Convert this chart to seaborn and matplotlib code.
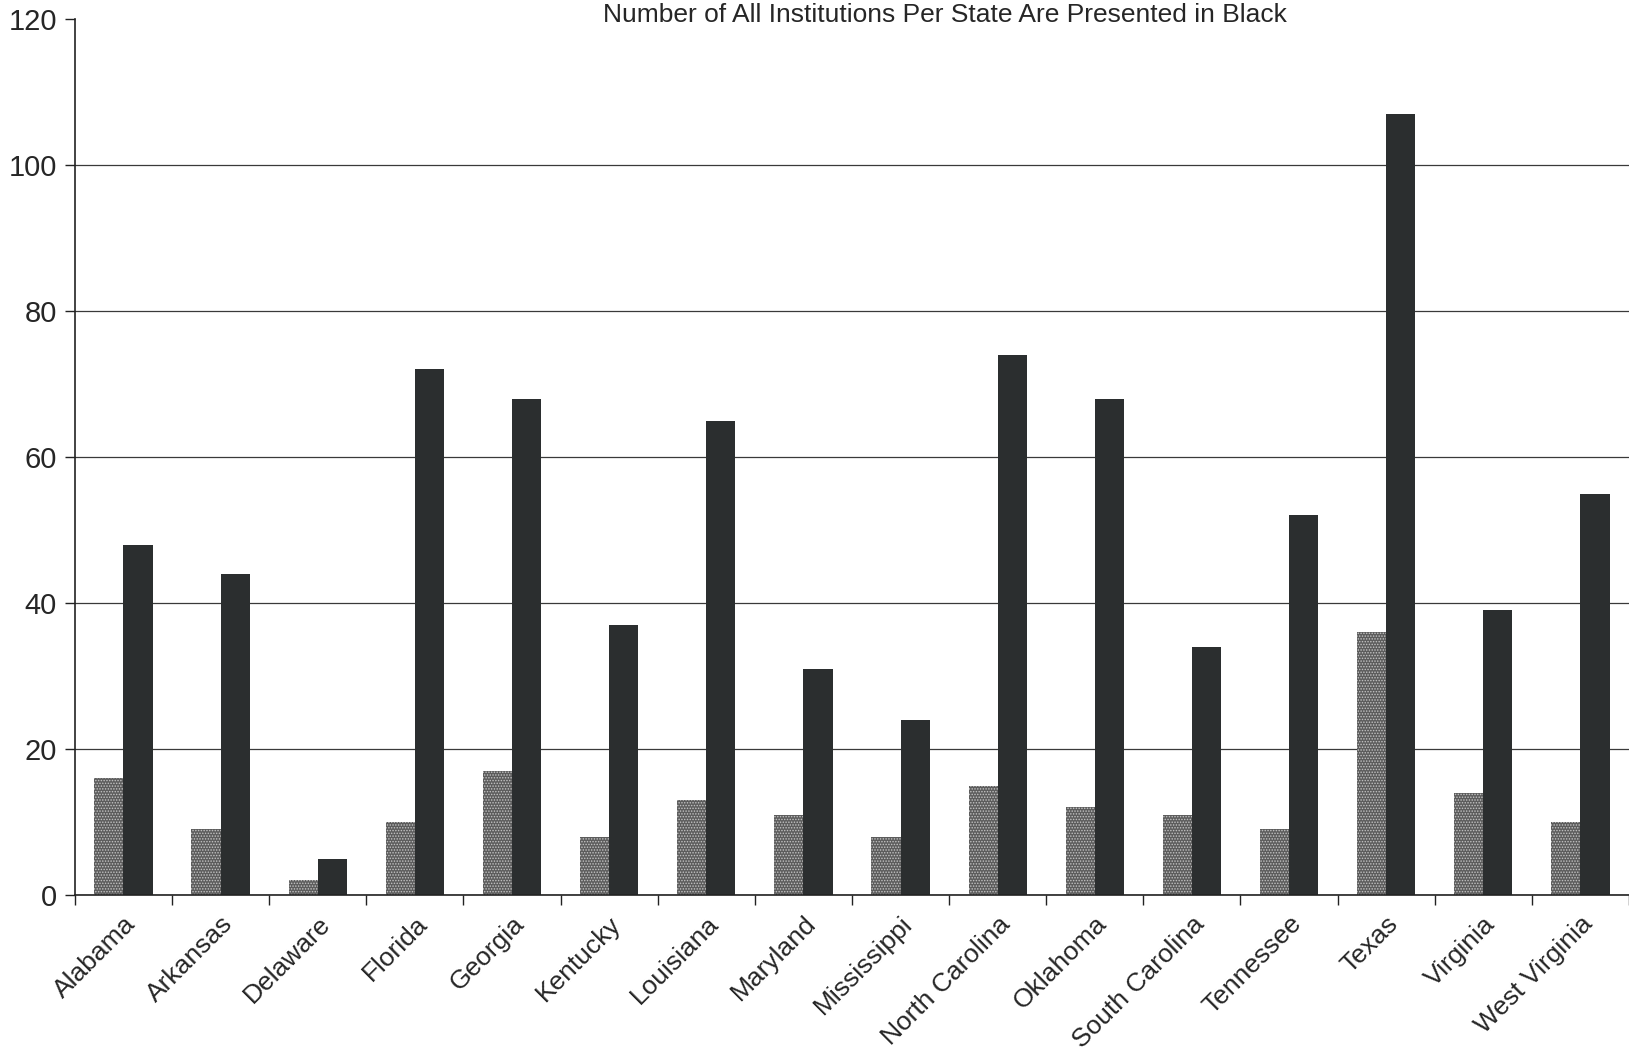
import numpy as np
import pandas as pd
import matplotlib
matplotlib.use("Agg")
import matplotlib.pyplot as plt
import seaborn as sns

states = ["Alabama", "Arkansas", "Delaware", "Florida", "Georgia", "Kentucky",
          "Louisiana", "Maryland", "Mississippi", "North Carolina", "Oklahoma",
          "South Carolina", "Tennessee", "Texas", "Virginia", "West Virginia"]
subset_counts = [16, 9, 2, 10, 17, 8, 13, 11, 8, 15, 12, 11, 9, 36, 14, 10]
all_counts = [48, 44, 5, 72, 68, 37, 65, 31, 24, 74, 68, 34, 52, 107, 39, 55]
series_names = ["Subset", "All Institutions"]
y_ticks = [0, 20, 40, 60, 80, 100, 120]
title = "Number of All Institutions Per State Are Presented in Black"

df = pd.DataFrame({
    "State": states * 2,
    "Count": subset_counts + all_counts,
    "Series": [series_names[0]] * len(states) + [series_names[1]] * len(states),
})

sns.set_theme(style="white")
plt.rcParams["font.family"] = ["Liberation Sans", "DejaVu Sans"]
plt.rcParams["hatch.linewidth"] = 0.7

fig = plt.figure(figsize=(16.29, 10.63), dpi=100)
ax = fig.add_axes([0.046, 0.158, 0.954, 0.824])

sns.barplot(data=df, x="State", y="Count", hue="Series", order=states,
            hue_order=series_names,
            palette={series_names[0]: "#5c5c5c", series_names[1]: "#2b2e2f"},
            width=0.6, gap=0, dodge=True, legend=False, ax=ax,
            linewidth=0, saturation=1)

n = len(states)
for p in ax.patches[:n]:
    p.set_hatch("......")
    p.set_edgecolor("#c4c4c4")
    p.set_linewidth(0)

ax.set_xlim(-0.5, n - 0.5)
ax.set_ylim(0, 120)
ax.set_yticks(y_ticks)
ax.set_yticklabels([str(v) for v in y_ticks], fontsize=21)
ax.set_xticks(range(n))
ax.set_xticklabels(states, rotation=45, ha="right", rotation_mode="anchor",
                   fontsize=19)
ax.set_xticks(np.arange(-0.5, n, 1.0), minor=True)
ax.tick_params(axis="x", which="major", length=0, pad=12)
ax.tick_params(axis="x", which="minor", length=7, width=1, color="#222222",
               direction="out", bottom=True)
ax.tick_params(axis="y", length=7, width=1, color="#222222", direction="out",
               left=True, pad=6)
ax.set_xlabel("")
ax.set_ylabel("")

ax.yaxis.grid(True, color="#3a3a3a", linewidth=0.9)
ax.set_axisbelow(True)
for gl, v in zip(ax.get_ygridlines(), y_ticks):
    if v == 120:
        gl.set_visible(False)

for s in ["top", "right"]:
    ax.spines[s].set_visible(False)
for s in ["left", "bottom"]:
    ax.spines[s].set_color("#222222")
    ax.spines[s].set_linewidth(1.2)

fig.text(0.58, 0.997, title, ha="center", va="top", fontsize=19)

fig.savefig("out.png", dpi=100)
